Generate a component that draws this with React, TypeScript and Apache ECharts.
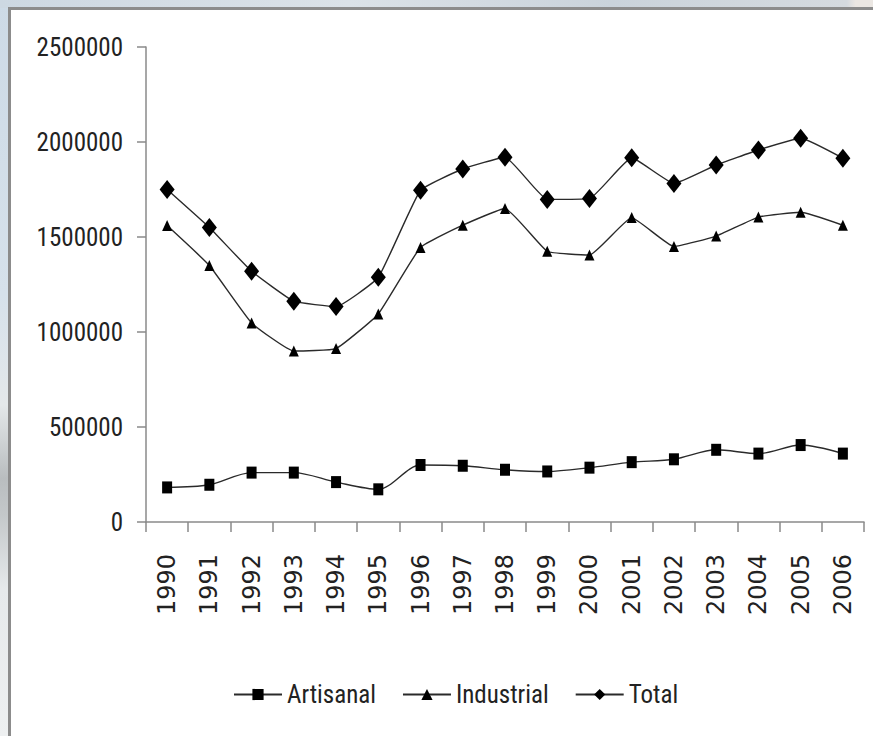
import React, { useEffect, useRef } from "react";
import * as echarts from "echarts";

const years = ["1990", "1991", "1992", "1993", "1994", "1995", "1996", "1997", "1998", "1999", "2000", "2001", "2002", "2003", "2004", "2005", "2006"];
const artisanal = [182000, 196000, 260000, 260000, 210000, 172000, 300000, 296000, 275000, 266000, 286000, 315000, 330000, 380000, 360000, 405000, 360000];
const industrial = [1560000, 1350000, 1048000, 900000, 913000, 1095000, 1445000, 1562000, 1650000, 1425000, 1405000, 1602000, 1450000, 1505000, 1605000, 1630000, 1562000];
const total = [1750000, 1550000, 1320000, 1162000, 1134000, 1288000, 1746000, 1858000, 1920000, 1698000, 1702000, 1917000, 1782000, 1879000, 1958000, 2020000, 1915000];
const seriesNames = ["Artisanal", "Industrial", "Total"];
const yMin = 0;
const yMax = 2500000;
const yStep = 500000;

const narrow = "'Roboto Condensed', 'DejaVu Sans Condensed', 'Liberation Sans Narrow', 'Arial Narrow', 'Liberation Sans', sans-serif";

export default function App() {
  const ref = useRef<HTMLDivElement>(null);
  useEffect(() => {
    document.body.style.margin = "0";
    const chart = echarts.init(ref.current as HTMLDivElement, null, { renderer: "svg" });
    const lineStyle = { color: "#2a2a2a", width: 1.4 };
    const itemStyle = { color: "#000", borderWidth: 0 };
    chart.setOption({
      animation: false,
      backgroundColor: "transparent",
      grid: { left: 146, right: 9, top: 47, bottom: 214, containLabel: false },
      xAxis: {
        type: "category",
        data: years,
        boundaryGap: true,
        axisLine: { show: true, lineStyle: { color: "#8a8a8a", width: 1.5 } },
        axisTick: { show: true, inside: false, length: 10, interval: 0, lineStyle: { color: "#8a8a8a", width: 1.5 } },
        axisLabel: {
          interval: 0,
          rotate: 90,
          margin: 32,
          fontFamily: "'DejaVu Sans', sans-serif",
          fontSize: 24,
          color: "#222",
        },
        splitLine: { show: false },
      },
      yAxis: {
        type: "value",
        min: yMin,
        max: yMax,
        interval: yStep,
        axisLine: { show: true, lineStyle: { color: "#8a8a8a", width: 1.5 } },
        axisTick: { show: true, inside: false, length: 9, lineStyle: { color: "#8a8a8a", width: 1.5 } },
        axisLabel: {
          margin: 23,
          fontFamily: narrow,
          fontSize: 25,
          color: "#222",
          formatter: (v: number) => String(v),
        },
        splitLine: { show: false },
      },
      legend: {
        left: 228,
        top: 677,
        itemWidth: 48,
        itemHeight: 14,
        itemGap: 26,
        data: seriesNames,
        textStyle: { fontFamily: narrow, fontSize: 25, color: "#222" },
      },
      series: [
        {
          name: seriesNames[0],
          type: "line",
          data: artisanal,
          smooth: 0.3,
          symbol: "rect",
          symbolSize: [10, 12],
          lineStyle,
          itemStyle,
        },
        {
          name: seriesNames[1],
          type: "line",
          data: industrial,
          smooth: 0.12,
          symbol: "triangle",
          symbolSize: [10, 11],
          lineStyle,
          itemStyle,
        },
        {
          name: seriesNames[2],
          type: "line",
          data: total,
          smooth: 0.12,
          symbol: "diamond",
          symbolSize: [15, 19],
          lineStyle,
          itemStyle,
        },
      ],
    });
    return () => chart.dispose();
  }, []);
  return (
    <div
      style={{
        position: "relative",
        width: 873,
        height: 736,
        overflow: "hidden",
        background:
          "linear-gradient(180deg, #cddae6 0%, #d6e1eb 40%, #e4e8ea 55%, #b9bdbf 65%, #c4c8ca 70%, #e6e9eb 80%, #eef0f1 100%)",
      }}
    >
      <div
        style={{
          position: "absolute",
          left: 0,
          top: 0,
          width: 873,
          height: 8,
          background: "linear-gradient(90deg, #cdd8e2 0%, #dbe2e8 40%, #cad3db 70%, #d5dadf 97%, #ebe7e3 98%)",
        }}
      />
      <div
        style={{
          position: "absolute",
          left: 8,
          top: 7,
          width: 870,
          height: 740,
          background: "#ffffff",
          borderLeft: "3px solid #8c8c8c",
          borderTop: "3px solid #8c8c8c",
        }}
      />
      <div ref={ref} style={{ position: "absolute", left: 0, top: 0, width: 873, height: 736 }} />
    </div>
  );
}
